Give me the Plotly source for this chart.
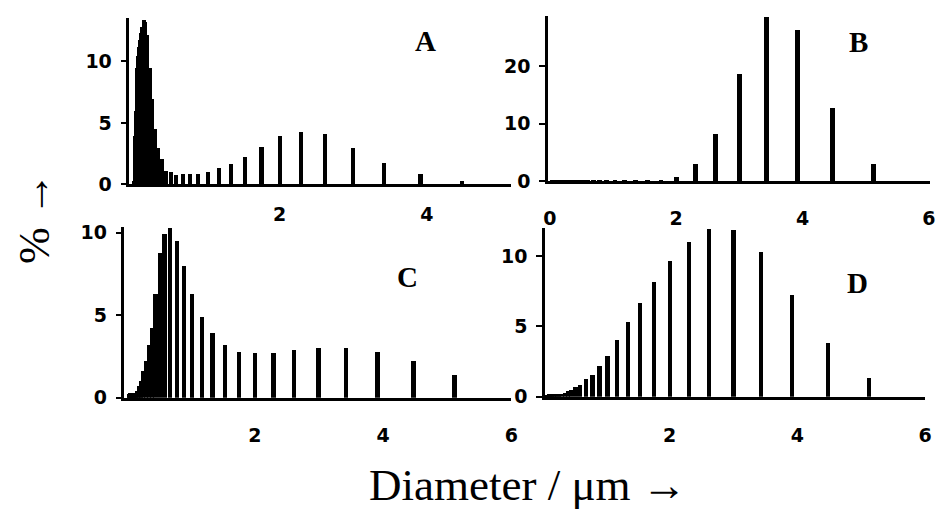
import plotly.graph_objects as go

# Size-class diameters (µm) shared by all panels
diam = [5.12, 4.48, 3.92, 3.43, 3.00, 2.62, 2.30, 2.01, 1.76, 1.54, 1.35, 1.18, 1.03,
        0.90, 0.79, 0.69, 0.60, 0.53, 0.46, 0.41, 0.36, 0.31, 0.27, 0.24, 0.21, 0.18,
        0.16, 0.14, 0.12, 0.107, 0.094, 0.082, 0.072, 0.063, 0.055, 0.048, 0.042, 0.037, 0.032]

pct_A = [0, 0.27, 0.85, 1.8, 3.0, 4.1, 4.3, 4.0, 3.07, 2.27, 1.68, 1.33, 1.0,
         0.88, 0.88, 0.88, 0.8, 1.0, 1.1, 2.1, 3.0, 4.5, 7.0, 9.5, 12.2, 13.2,
         13.4, 12.8, 12.3, 11.8, 11.2, 10.5, 9.5, 8.0, 6.0, 4.0, 2.5, 1.0, 0.3]

pct_B = [3.1, 12.7, 26.2, 28.6, 18.6, 8.2, 3.0, 0.85, 0.35, 0.35, 0.3, 0.3, 0.3,
         0.3, 0.35, 0.3, 0.3, 0.35, 0.3, 0.3, 0.35, 0.3, 0.3, 0.35, 0.3, 0.3,
         0.3, 0.35, 0.3, 0.3, 0.3, 0.3, 0.3, 0.3, 0.3, 0.3, 0.3, 0.3, 0.3]

pct_C = [1.37, 2.2, 2.8, 3.0, 3.0, 2.9, 2.7, 2.7, 2.8, 3.2, 3.9, 4.9, 6.3,
         8.0, 9.5, 10.3, 9.9, 8.8, 6.3, 4.2, 3.2, 2.2, 1.6, 1.0, 0.7, 0.4,
         0.3, 0.3, 0.3, 0.3, 0.3, 0.3, 0.3, 0.3, 0.2, 0.2, 0, 0, 0]

pct_D = [1.36, 3.8, 7.2, 10.3, 11.87, 11.9, 11.0, 9.65, 8.15, 6.65, 5.3, 4.0, 2.9,
         2.2, 1.55, 1.27, 0.8, 0.67, 0.5, 0.4, 0.27, 0.22, 0.2, 0.2, 0.2, 0.2,
         0.2, 0.2, 0.2, 0.15, 0.15, 0.15, 0.1, 0.1, 0.1, 0, 0, 0, 0]

panel_labels = ["A", "B", "C", "D"]
xticks = [[2, 4], [0, 2, 4, 6], [2, 4, 6], [2, 4, 6]]
yticks = [[0, 5, 10], [0, 10, 20], [0, 5, 10], [0, 5, 10]]

W, H = 941, 528
def px(v): return v / W
def py(v): return 1 - v / H

panels = [
    dict(data=pct_A, bw=0.055, xd=[px(126), px(513)], yd=[py(185), py(13)], xr=[-0.04, 5.15], yr=[0, 13.55], so=11),
    dict(data=pct_B, bw=0.075, xd=[px(550), px(937)], yd=[py(182), py(11)], xr=[-0.03, 6.02], yr=[0, 28.7], so=18),
    dict(data=pct_C, bw=0.065, xd=[px(121), px(513)], yd=[py(405), py(229)], xr=[-0.03, 6.0], yr=[0, 10.35], so=19),
    dict(data=pct_D, bw=0.07, xd=[px(547), px(932)], yd=[py(404), py(230)], xr=[0.05, 6.0], yr=[0, 12.0], so=20),
]

fig = go.Figure()
tickfont = dict(family="DejaVu Sans", size=19, color="black", weight="bold")
layout = {}
for i, p in enumerate(panels):
    n = "" if i == 0 else str(i + 1)
    fig.add_trace(go.Bar(x=diam, y=p["data"], width=[p["bw"]] * len(diam),
                         marker=dict(color="black", line=dict(width=0)),
                         xaxis="x" + n, yaxis="y" + n, showlegend=False))
    layout["xaxis" + n] = dict(domain=p["xd"], range=p["xr"], anchor="y" + n,
                               showline=True, linecolor="black", linewidth=2.5,
                               showgrid=False, zeroline=False, ticks="",
                               tickvals=xticks[i], tickfont=tickfont,
                               ticklabelstandoff=p["so"])
    layout["yaxis" + n] = dict(domain=p["yd"], range=p["yr"], anchor="x" + n,
                               showline=True, linecolor="black", linewidth=2.5,
                               showgrid=False, zeroline=False, ticks="outside",
                               ticklen=6, tickwidth=2, tickcolor="black",
                               tickvals=yticks[i], tickfont=tickfont,
                               ticklabelstandoff=5)

ann_pos = [(426, 37), (865, 38), (408, 281), (864, 287)]
annotations = []
for lab, (ax, ay) in zip(panel_labels, ann_pos):
    annotations.append(dict(x=px(ax), y=py(ay), xref="paper", yref="paper", text=lab,
                            showarrow=False, xanchor="center", yanchor="middle",
                            font=dict(family="Liberation Serif", size=29, color="black", weight="bold")))
annotations.append(dict(x=px(530), y=py(495), xref="paper", yref="paper",
                        text="Diameter / μm →", showarrow=False, xanchor="center", yanchor="middle",
                        font=dict(family="Liberation Serif", size=45, color="black")))
annotations.append(dict(x=px(30), y=py(220), xref="paper", yref="paper",
                        text="% →", textangle=-90, showarrow=False, xanchor="center", yanchor="middle",
                        font=dict(family="Liberation Serif", size=44, color="black")))

fig.update_layout(width=W, height=H, margin=dict(l=0, r=0, t=0, b=0),
                  paper_bgcolor="white", plot_bgcolor="white", barmode="overlay",
                  bargap=0, annotations=annotations, **layout)
fig.write_html("out.html")
